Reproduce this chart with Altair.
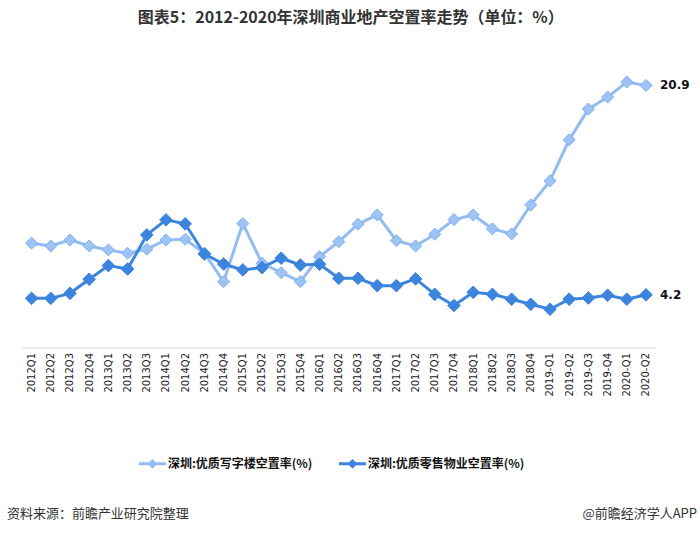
import altair as alt
import pandas as pd

quarters = ["2012Q1", "2012Q2", "2012Q3", "2012Q4", "2013Q1", "2013Q2", "2013Q3",
            "2014Q1", "2014Q2", "2014Q3", "2014Q4", "2015Q1", "2015Q2", "2015Q3", "2015Q4",
            "2016Q1", "2016Q2", "2016Q3", "2016Q4", "2017Q1", "2017Q2", "2017Q3", "2017Q4",
            "2018Q1", "2018Q2", "2018Q3", "2018Q4", "2019-Q1", "2019-Q2", "2019-Q3", "2019-Q4",
            "2020-Q1", "2020-Q2"]
office = [8.32, 8.10, 8.58, 8.10, 7.78, 7.52, 7.84, 8.58, 8.63, 7.52, 5.25, 9.88, 6.72,
          5.97, 5.25, 7.25, 8.44, 9.83, 10.57, 8.52, 8.10, 9.03, 10.2, 10.57, 9.46, 9.06,
          11.37, 13.29, 16.56, 19.01, 19.97, 21.17, 20.9]
retail = [3.92, 3.92, 4.32, 5.44, 6.53, 6.26, 8.98, 10.18, 9.86, 7.46, 6.66, 6.19, 6.37,
          7.12, 6.58, 6.64, 5.52, 5.52, 4.93, 4.93, 5.47, 4.24, 3.35, 4.40, 4.24, 3.85,
          3.45, 3.05, 3.85, 3.95, 4.17, 3.85, 4.2]
series_names = ["深圳:优质写字楼空置率(%)", "深圳:优质零售物业空置率(%)"]
last_labels = ["20.9", "4.2"]

title_text = "图表5：2012-2020年深圳商业地产空置率走势（单位：%）"
source_text = "资料来源：前瞻产业研究院整理"
brand_text = "@前瞻经济学人APP"

n = len(quarters)
df = pd.DataFrame({
    "quarter": quarters * 2,
    "value": office + retail,
    "series": [series_names[0]] * n + [series_names[1]] * n,
    "label": [""] * (n - 1) + [last_labels[0]] + [""] * (n - 1) + [last_labels[1]],
})

LIGHT = "#93BDF2"
LIGHT_FILL = "#9EC4F5"
LIGHT_STROKE = "#7EAEEC"
DARK = "#3C85DF"
CJK = "Noto Sans CJK SC"

x_enc = alt.X("quarter:N", sort=quarters,
              scale=alt.Scale(type="point", padding=0.5),
              axis=alt.Axis(title=None, labelAngle=270, ticks=False, tickSize=0,
                            labelPadding=5, labelFont="DejaVu Sans", labelFontSize=10,
                            labelColor="#222222", domainColor="#d9d9d9", domainWidth=1,
                            grid=False, labelOverlap=False))
y_enc = alt.Y("value:Q", scale=alt.Scale(domain=[0, 25]), axis=None)

color_enc = alt.Color("series:N",
                      scale=alt.Scale(domain=series_names, range=[LIGHT, DARK]),
                      legend=alt.Legend(
                          title=None, orient="none", direction="horizontal", columns=2,
                          legendX=122, legendY=421, padding=0, columnPadding=20,
                          symbolType="M-2,0L2,0M0,-0.42L0.42,0L0,0.42L-0.42,0Z",
                          symbolSize=182, symbolStrokeWidth=3, labelOffset=7,
                          labelFont=CJK, labelFontSize=12, labelFontWeight="bold",
                          labelColor="#111111", labelLimit=300))

base = alt.Chart(df).encode(x=x_enc, y=y_enc)

light_line = base.transform_filter(alt.datum.series == series_names[0]).mark_line(
    strokeWidth=3).encode(color=color_enc)
light_pts = base.transform_filter(alt.datum.series == series_names[0]).mark_point(
    shape="diamond", filled=True, size=144, fill=LIGHT_FILL, stroke=LIGHT_STROKE,
    strokeWidth=1, opacity=1)
dark_line = base.transform_filter(alt.datum.series == series_names[1]).mark_line(
    strokeWidth=3).encode(color=color_enc)
dark_pts = base.transform_filter(alt.datum.series == series_names[1]).mark_point(
    shape="diamond", filled=True, size=160, fill=DARK, stroke=DARK,
    strokeWidth=1, opacity=1)
end_labels = base.transform_filter(alt.datum.label != "").mark_text(
    align="left", baseline="middle", dx=14, font="DejaVu Sans", fontSize=12,
    fontWeight="bold", color="#111111").encode(text="label:N")

src = alt.Chart(pd.DataFrame({"t": [source_text]})).mark_text(
    align="left", baseline="middle", font=CJK, fontSize=13, color="#333333").encode(
    text="t:N", x=alt.value(-15), y=alt.value(480))
brand = alt.Chart(pd.DataFrame({"t": [brand_text]})).mark_text(
    align="right", baseline="middle", font=CJK, fontSize=13, color="#333333").encode(
    text="t:N", x=alt.value(675), y=alt.value(480))

chart = alt.layer(light_line, light_pts, dark_line, dark_pts, end_labels, src, brand).properties(
    width=633.6, height=313.5,
    title=alt.TitleParams(title_text, font=CJK, fontSize=16, fontWeight="bold",
                          color="#333333", anchor="middle", dx=12, offset=8),
    autosize=alt.AutoSizeParams(type="none"),
    padding={"left": 22, "top": 34, "right": 44, "bottom": 186},
    background="white",
).configure_view(strokeWidth=0, stroke="transparent")

chart.save("out.html", embed_options={"renderer": "svg", "actions": False})
